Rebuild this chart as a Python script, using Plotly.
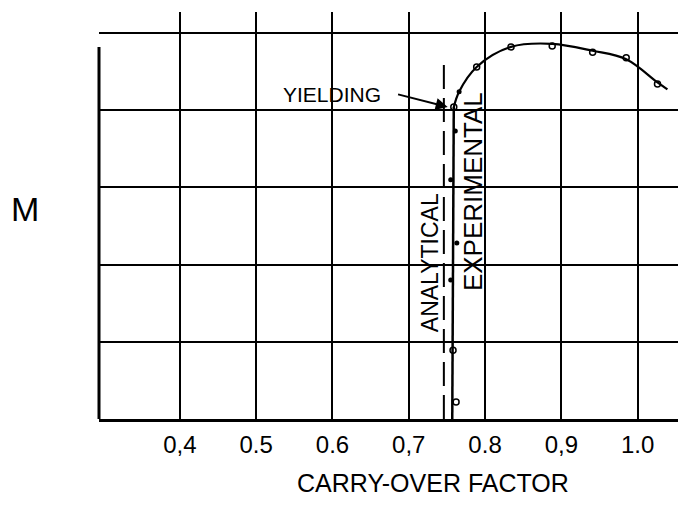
import plotly.graph_objects as go

# Tick labels / positions
x_ticks = [0.4, 0.5, 0.6, 0.7, 0.8, 0.9, 1.0]
x_tick_text = ["0,4", "0.5", "0.6", "0,7", "0.8", "0,9", "1.0"]
y_grid = [1, 2, 3, 4, 5]

# Experimental: vertical part up to yielding
vert_x = [0.757, 0.759]
vert_y = [0.0, 4.04]

# Experimental: curve after yielding
curve_x = [0.759, 0.766, 0.789, 0.834, 0.888, 0.941, 0.985, 1.026, 1.039]
curve_y = [4.04, 4.24, 4.56, 4.82, 4.86, 4.77, 4.66, 4.36, 4.27]

# Test points (open circles)
open_x = [0.759, 0.758, 0.762, 0.789, 0.834, 0.888, 0.941, 0.985, 1.026]
open_y = [4.04, 0.89, 0.22, 4.56, 4.82, 4.83, 4.75, 4.68, 4.34]

# Test points (filled dots)
fill_x = [0.761, 0.755, 0.763, 0.755, 0.766]
fill_y = [3.73, 3.10, 2.28, 1.80, 4.24]

# Analytical line
anal_x = [0.746, 0.746]
anal_y = [0.0, 4.68]

FONT = "Liberation Sans"

fig = go.Figure()
fig.add_trace(go.Scatter(x=anal_x, y=anal_y, mode="lines",
                         line=dict(color="black", width=2, dash="24px,9px"),
                         showlegend=False, hoverinfo="skip"))
fig.add_trace(go.Scatter(x=vert_x, y=vert_y, mode="lines",
                         line=dict(color="black", width=2.5),
                         showlegend=False, hoverinfo="skip"))
fig.add_trace(go.Scatter(x=curve_x, y=curve_y, mode="lines",
                         line=dict(color="black", width=2.2, shape="spline", smoothing=1.0),
                         showlegend=False, hoverinfo="skip"))
fig.add_trace(go.Scatter(x=open_x, y=open_y, mode="markers",
                         marker=dict(symbol="circle-open", size=6, color="black",
                                     line=dict(width=1.5, color="black")),
                         showlegend=False))
fig.add_trace(go.Scatter(x=fill_x, y=fill_y, mode="markers",
                         marker=dict(symbol="circle", size=5, color="black"),
                         showlegend=False))

fig.update_layout(
    width=678, height=498,
    margin=dict(l=91, r=6, t=4, b=87),
    paper_bgcolor="white", plot_bgcolor="white",
    font=dict(family=FONT, color="black"),
    xaxis=dict(range=[0.294, 1.0555], tickvals=x_ticks, ticktext=x_tick_text,
               showgrid=True, gridcolor="black", gridwidth=1.8,
               zeroline=False, showline=True, linecolor="black", linewidth=3,
               ticks="", ticklabelstandoff=2,
               tickfont=dict(family=FONT, size=24, color="black")),
    yaxis=dict(range=[0, 5.272], tickvals=y_grid, showticklabels=False,
               showgrid=True, gridcolor="black", gridwidth=1.8,
               zeroline=False, showline=False, ticks=""),
    shapes=[dict(type="line", xref="paper", x0=0, x1=0, yref="y", y0=0, y1=4.82,
                 line=dict(color="black", width=3))],
    annotations=[
        dict(text="YIELDING", x=0.599, y=4.20, xref="x", yref="y", showarrow=False,
             font=dict(family=FONT, size=21, color="black")),
        dict(text="", x=0.751, y=4.04, xref="x", yref="y", ax=0.684, ay=4.21,
             axref="x", ayref="y", showarrow=True, arrowhead=2, arrowsize=1.2,
             arrowwidth=2, arrowcolor="black"),
        dict(text="ANALYTICAL", x=0.7277, y=2.03, xref="x", yref="y", showarrow=False,
             textangle=-90, font=dict(family=FONT, size=23, color="black")),
        dict(text="EXPERIMENTAL", x=0.784, y=2.95, xref="x", yref="y", showarrow=False,
             textangle=-90, font=dict(family=FONT, size=26, color="black")),
        dict(text="M", x=-0.127, y=0.516, xref="paper", yref="paper", showarrow=False,
             xanchor="center", yanchor="middle",
             font=dict(family=FONT, size=34, color="black")),
        dict(text="CARRY-OVER FACTOR", x=0.575, y=-0.157, xref="paper", yref="paper",
             xanchor="center", yanchor="middle",
             showarrow=False, font=dict(family=FONT, size=25, color="black")),
    ],
)

fig.write_html("out.html")
